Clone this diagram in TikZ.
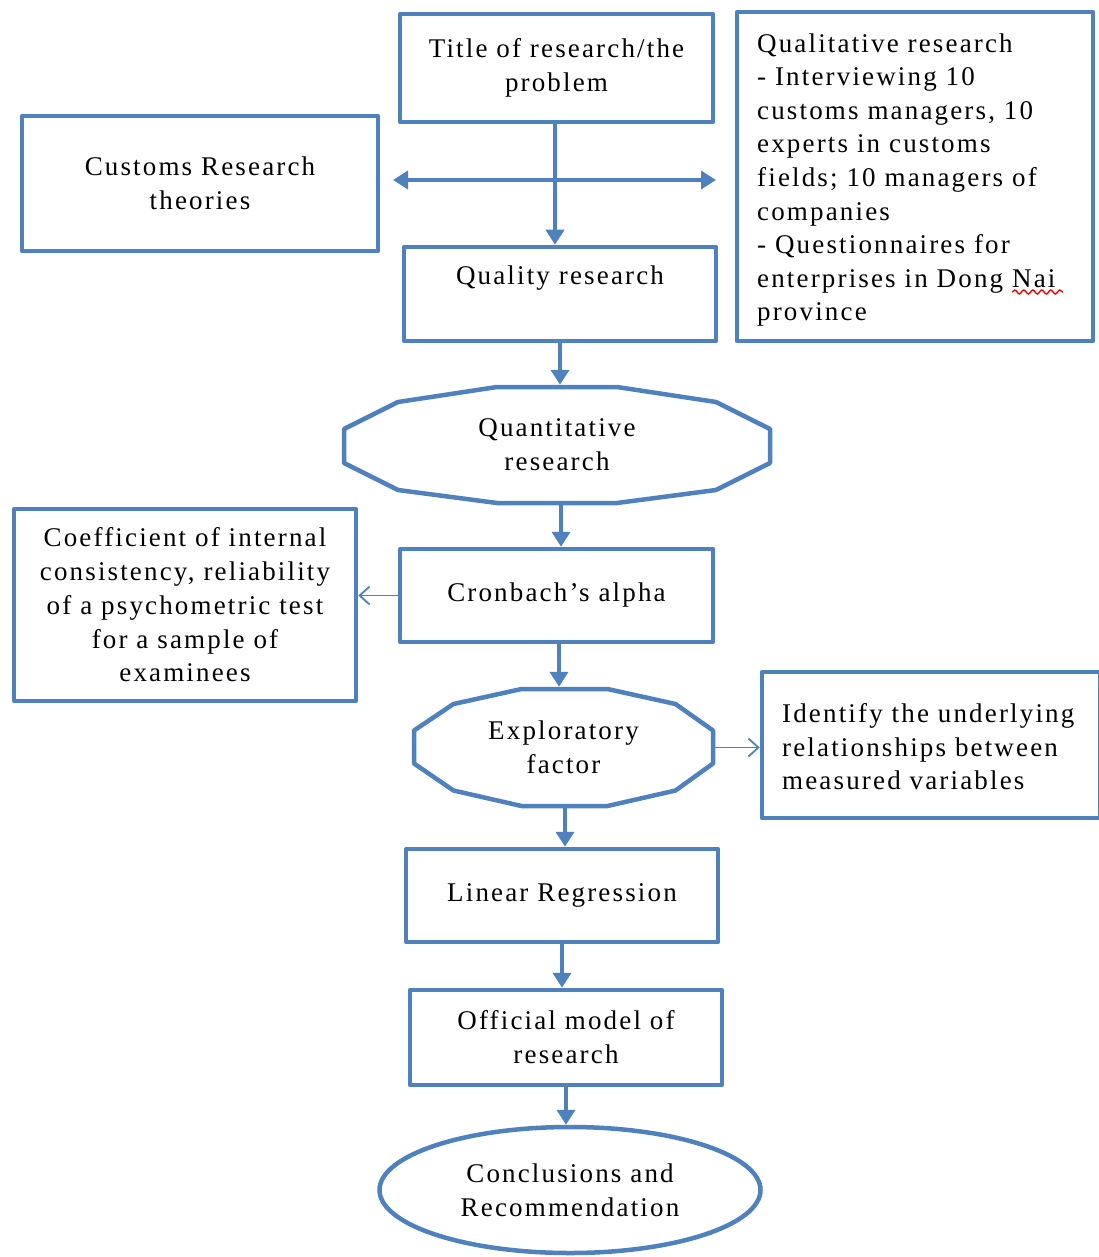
\documentclass[tikz,border=0pt]{standalone}
\usepackage{fontspec}
\setmainfont{Liberation Serif}[LetterSpace=8]
\usetikzlibrary{arrows.meta,calc,shapes.geometric,decorations.pathmorphing}
\definecolor{bl}{HTML}{4F81BD}
\begin{document}
\begin{tikzpicture}[x=1pt,y=-1pt,
  box/.style={draw=bl,line width=4.5pt,line join=round,rectangle,inner sep=0pt,align=center,font=\fontsize{27}{33.8}\selectfont},
  frame/.style={draw=bl,line width=4.5pt,line join=round},
  hidden/.style={rectangle,inner sep=0pt,align=center,font=\fontsize{27}{33.8}\selectfont},
  txt/.style={inner sep=0pt,align=center,font=\fontsize{27}{33.8}\selectfont},
  ltxt/.style={inner sep=0pt,align=left,font=\fontsize{27}{33.6}\selectfont},
  bigarrow/.style={draw=bl,line width=4.5pt,-{Triangle[length=15pt,width=18pt]}},
  bigdarrow/.style={draw=bl,line width=4.5pt,{Triangle[length=15pt,width=18pt]}-{Triangle[length=15pt,width=18pt]}},
  thinarrow/.style={draw=bl,line width=1.8pt,-{Straight Barb[length=10pt,width=18pt]}}]
\useasboundingbox (0,0) rectangle (1099,1257);

% boxes
\node[box,minimum width=313pt,minimum height=108pt] (title) at (556.5,68) {Title of research/the\\problem};
\node[box,minimum width=356pt,minimum height=329pt] (qual) at (915,176.5) {};
\node[ltxt,anchor=west] (qualtxt) at (757,180) {Qualitative research\\- Interviewing 10\\customs managers, 10\\experts in customs\\fields; 10 managers of\\companies\\- Questionnaires for\\enterprises in Dong Nai\\province};
\node[box,minimum width=356pt,minimum height=135pt] (cust) at (200,183.5) {Customs Research\\theories};
\node[box,minimum width=312pt,minimum height=94pt] (quality) at (560,294) {};
\node[txt] (qualitytxt) at (560,278) {Quality research};

\node[hidden,minimum width=430pt,minimum height=120pt] (quant) at (557,445) {Quantitative\\research};
\draw[frame,shift={(quant.center)}] (-60,-58) -- (60,-58) -- (159,-43) -- (213,-16) -- (213,18) -- (159,45) -- (60,58) -- (-60,58) -- (-159,45) -- (-213,18) -- (-213,-16) -- (-159,-43) -- cycle;

\node[box,minimum width=342pt,minimum height=192pt] (coef) at (185,605) {Coefficient of internal\\consistency, reliability\\of a psychometric test\\for a sample of\\examinees};
\node[box,minimum width=313pt,minimum height=93pt] (cron) at (556.5,595.5) {Cronbach’s alpha};

\node[hidden,minimum width=303pt,minimum height=121pt] (expl) at (563.5,747.5) {Exploratory\\factor};
\draw[frame,shift={(expl.center)}] (-42,-58.5) -- (44,-58.5) -- (112,-43.5) -- (149.5,-17) -- (149.5,16) -- (112,43) -- (44,58.5) -- (-42,58.5) -- (-110,43) -- (-149.5,16) -- (-149.5,-17) -- (-110,-43.5) -- cycle;

\node[box,minimum width=338pt,minimum height=146pt] (ident) at (931,745) {};
\node[ltxt,anchor=west] (identtxt) at (782,747) {Identify the underlying\\relationships between\\measured variables};

\node[box,minimum width=312pt,minimum height=93pt] (lin) at (562,895.5) {Linear Regression};
\node[box,minimum width=312pt,minimum height=95pt] (off) at (566,1037.5) {Official model of\\research};
\node[draw=bl,line width=4.5pt,ellipse,inner sep=0pt,minimum width=381pt,minimum height=126pt,align=center,font=\fontsize{27}{33.8}\selectfont] (conc) at (570,1190) {Conclusions and\\Recommendation};

% connectors
\coordinate (hl) at (393,180);
\coordinate (hr) at (716,180);
\draw[bigdarrow] (hl) -- (hr);
\draw[bigarrow] (title.south -| 555,0) -- (555,0 |- quality.north);
\draw[bigarrow] (quality.south) -- (quality.south |- quant.north);
\draw[bigarrow] (quant.south -| 561,0) -- (561,0 |- cron.north);
\draw[bigarrow] (cron.south -| 559,0) -- (559,0 |- expl.north);
\draw[bigarrow] (expl.south -| 565,0) -- (565,0 |- lin.north);
\draw[bigarrow] (lin.south) -- (lin.south |- off.north);
\draw[bigarrow] (off.south) -- (off.south |- conc.north);
\draw[thinarrow] (cron.west) -- (cron.west -| coef.east);
\draw[thinarrow] (expl.east) -- (expl.east -| ident.west);

% spell-check underline
\draw[red,line width=1.4pt,decorate,decoration={snake,amplitude=2pt,segment length=9pt}] (1012,292) -- (1063,292);
\end{tikzpicture}
\end{document}
